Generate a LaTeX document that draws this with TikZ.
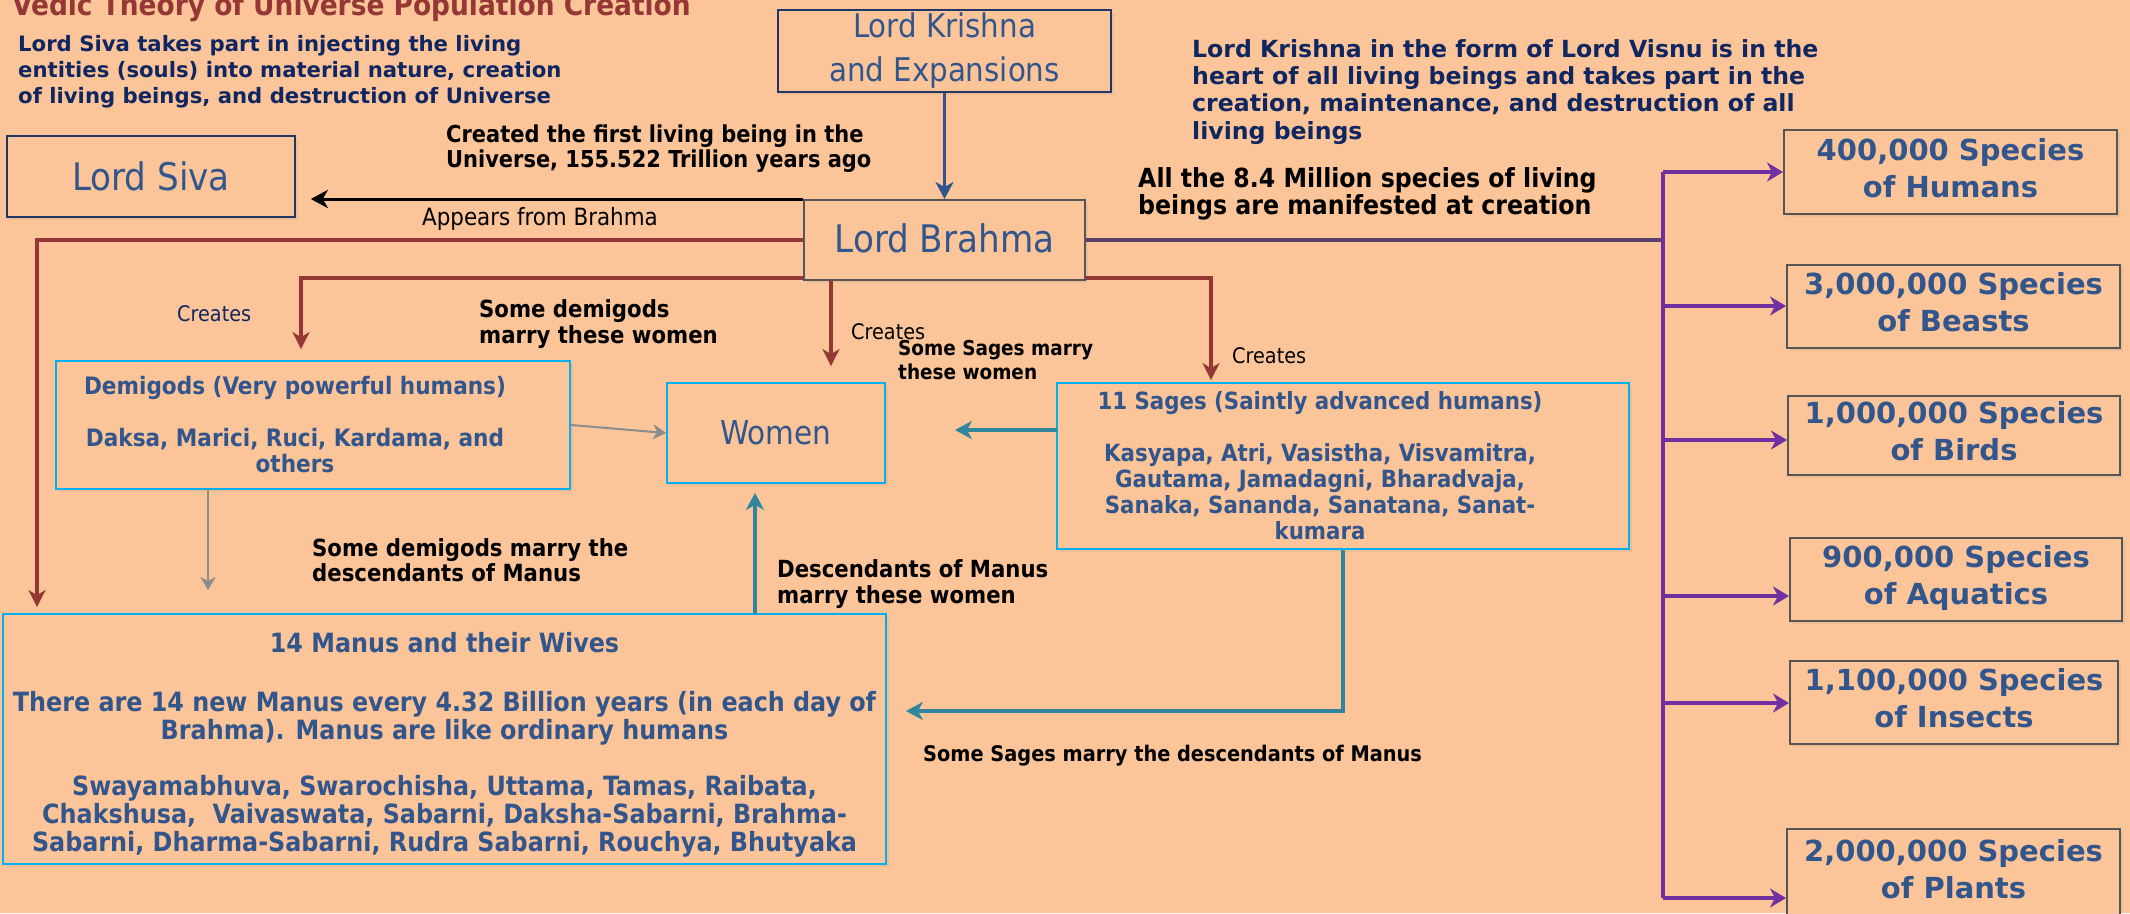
\documentclass[tikz,border=0pt]{standalone}
\usepackage{fontspec}
\setmainfont{DejaVu Sans}
\newfontfamily\tahoma{DejaVu Sans Condensed}
\usetikzlibrary{arrows.meta,shadows}
\definecolor{bg_peach}{RGB}{251, 197, 153}
\definecolor{txt_blue}{RGB}{50, 86, 140}
\definecolor{txt_navy}{RGB}{16, 38, 96}
\definecolor{ln_red}{RGB}{149, 55, 53}
\definecolor{ln_purple}{RGB}{112, 48, 160}
\definecolor{ln_plum}{RGB}{88, 66, 112}
\definecolor{ln_teal}{RGB}{49, 133, 156}
\definecolor{ln_gray}{RGB}{140, 140, 140}
\definecolor{ln_blue}{RGB}{47, 85, 140}
\definecolor{bx_cyan}{RGB}{0, 176, 240}
\definecolor{bx_navy}{RGB}{31, 56, 100}
\definecolor{bx_gray}{RGB}{85, 85, 85}
\tikzstyle{none}=[inner sep=0pt]
\tikzstyle{cb}=[rectangle,fill=bg_peach,draw=bx_cyan,line width=1.8pt,
  inner sep=0pt,align=center,text=txt_blue,
  drop shadow={shadow xshift=3pt,shadow yshift=-3pt,opacity=0.12}]
\tikzstyle{nb}=[cb,draw=bx_navy,line width=1.6pt]
\tikzstyle{gb}=[cb,draw=bx_gray,line width=2pt]
\tikzstyle{sp}=[gb,font=\bfseries\fontsize{29}{37}\selectfont,text depth=9pt,
  minimum width=332pt,minimum height=83pt]
\tikzstyle{btxt}=[inner sep=0pt,align=center,text=txt_blue,
  font=\tahoma\bfseries\fontsize{24}{26}\selectfont]
\tikzstyle{lbl}=[inner sep=0pt,anchor=base west,align=left,
  font=\tahoma\bfseries\fontsize{23.6}{26}\selectfont]
\tikzstyle{ra}=[draw=ln_red,line width=3.5pt,
  -{Stealth[length=17pt,width=17pt,inset=5pt]}]
\tikzstyle{pa}=[draw=ln_purple,line width=3.2pt,
  -{Stealth[length=16pt,width=19pt,inset=5pt]}]
\tikzstyle{pl}=[draw=ln_purple,line width=3.5pt]
\tikzstyle{ta}=[draw=ln_teal,line width=3.5pt,
  -{Stealth[length=17pt,width=18pt,inset=5pt]}]
\tikzstyle{ga}=[draw=ln_gray,line width=2pt,
  -{Stealth[length=13pt,width=15pt,inset=4pt]}]
\tikzstyle{ba}=[draw=black,line width=3pt,
  -{Stealth[length=17pt,width=18pt,inset=5pt]}]
\tikzstyle{bla}=[draw=ln_blue,line width=3pt,
  -{Stealth[length=17pt,width=18pt,inset=5pt]}]

\begin{document}
\begin{tikzpicture}[x=1pt, y=-1pt, line join=miter]
            \path [use as bounding box, fill=bg_peach] (0, 0) rectangle (2130, 913);
            % boxes
            \node [style=nb, minimum width=333pt, minimum height=82pt,
              font=\tahoma\fontsize{32.6}{44}\selectfont] (1) at (944.5, 51) {Lord Krishna\\and Expansions};
            \node [style=gb, minimum width=281pt, minimum height=80pt, text depth=4pt,
              font=\tahoma\fontsize{38}{44}\selectfont] (2) at (944.5, 240) {Lord Brahma};
            \node [style=nb, minimum width=288pt, minimum height=81pt,
              font=\tahoma\fontsize{38}{44}\selectfont] (3) at (151, 176.5) {Lord Siva};
            \node [style=cb, minimum width=514pt, minimum height=128pt] (4) at (313, 425) {};
            \node [style=btxt] (44) at ([xshift=-18pt]4.center)
              {Demigods (Very powerful humans)\\[26pt]Daksa, Marici, Ruci, Kardama, and\\others};
            \node [style=cb, minimum width=218pt, minimum height=100pt,
              font=\tahoma\fontsize{32.8}{40}\selectfont] (5) at (776, 433) {Women};
            \node [style=cb, minimum width=572pt, minimum height=166pt] (6) at (1343, 466) {};
            \node [style=btxt, font=\tahoma\bfseries\fontsize{23.7}{26}\selectfont] (45) at ([xshift=-23pt]6.center)
              {11 Sages (Saintly advanced humans)\\[26pt]Kasyapa, Atri, Vasistha, Visvamitra,\\
               Gautama, Jamadagni, Bharadvaja,\\Sanaka, Sananda, Sanatana, Sanat-\\kumara};
            \node [style=cb, minimum width=883pt, minimum height=250pt,
              font=\tahoma\bfseries\fontsize{26.5}{28}\selectfont] (7) at (444.5, 739)
              {\rule{0pt}{32pt}14 Manus and their Wives\\[31pt]
               There are 14 new Manus every 4.32 Billion years (in each day of\\
               Brahma). Manus are like ordinary humans\\[28pt]
               Swayamabhuva, Swarochisha, Uttama, Tamas, Raibata,\\
               Chakshusa,~ Vaivaswata, Sabarni, Daksha-Sabarni, Brahma-\\
               Sabarni, Dharma-Sabarni, Rudra Sabarni, Rouchya, Bhutyaka};
            \node [style=sp, minimum width=333pt, minimum height=84pt] (8) at (1950.5, 172) {400,000 Species\\of Humans};
            \node [style=sp, minimum width=333pt] (9) at (1953.5, 306.5) {3,000,000 Species\\of Beasts};
            \node [style=sp, minimum height=79pt] (10) at (1954, 435.5) {1,000,000 Species\\of Birds};
            \node [style=sp] (11) at (1956, 579.5) {900,000 Species\\of Aquatics};
            \node [style=sp, minimum width=328pt] (12) at (1954, 702.5) {1,100,000 Species\\of Insects};
            \node [style=sp, minimum width=333pt, minimum height=88pt] (13) at (1953.5, 873) {2,000,000 Species\\of Plants};
            % texts (base = last line)
            \node [style=lbl, text=ln_red, font=\tahoma\bfseries\fontsize{29.4}{32}\selectfont] (0) at (12, 15)
              {Vedic Theory of Universe Population Creation};
            \node [style=lbl, text=txt_navy, font=\bfseries\fontsize{21.2}{26}\selectfont] (14) at (18, 103)
              {Lord Siva takes part in injecting the living\\entities (souls) into material nature, creation\\of living beings, and destruction of Universe};
            \node [style=lbl, text=txt_navy, font=\bfseries\fontsize{23.6}{27.3}\selectfont] (15) at (1192, 139)
              {Lord Krishna in the form of Lord Visnu is in the\\heart of all living beings and takes part in the\\creation, maintenance, and destruction of all\\living beings};
            \node [style=lbl, font=\tahoma\bfseries\fontsize{23.3}{25}\selectfont] (16) at (446, 167)
              {Created the first living being in the\\Universe, 155.522 Trillion years ago};
            \node [style=lbl, font=\tahoma\fontsize{23.8}{26}\selectfont] (17) at (422, 225) {Appears from Brahma};
            \node [style=lbl, font=\tahoma\bfseries\fontsize{26.3}{26.5}\selectfont] (18) at (1138, 214)
              {All the 8.4 Million species of living\\beings are manifested at creation};
            \node [style=lbl, text=txt_navy, font=\tahoma\fontsize{21.4}{26}\selectfont] (19) at (177, 321) {Creates};
            \node [style=lbl, font=\tahoma\fontsize{21.4}{26}\selectfont] (20) at (851, 339) {Creates};
            \node [style=lbl, font=\tahoma\fontsize{21.4}{26}\selectfont] (21) at (1232, 363) {Creates};
            \node [style=lbl] (22) at (479, 343) {Some demigods\\marry these women};
            \node [style=lbl, font=\tahoma\bfseries\fontsize{20.5}{24}\selectfont] (23) at (898, 379)
              {Some Sages marry\\these women};
            \node [style=lbl, font=\tahoma\bfseries\fontsize{23.6}{25}\selectfont] (24) at (312, 581)
              {Some demigods marry the\\descendants of Manus};
            \node [style=lbl] (25) at (777, 603) {Descendants of Manus\\marry these women};
            \node [style=lbl, font=\tahoma\bfseries\fontsize{21.5}{25}\selectfont] (26) at (923, 761)
              {Some Sages marry the descendants of Manus};
            % bends and free ends
            \node [style=none] (30) at (37, 240) {};
            \node [style=none] (31) at (301, 278) {};
            \node [style=none] (32) at (1211, 278) {};
            \node [style=none] (33) at (831, 280) {};
            \node [style=none] (34) at (1663, 240) {};
            \node [style=none] (35) at (1663, 172) {};
            \node [style=none] (36) at (1663, 898) {};
            \node [style=none] (37) at (1057, 430) {};
            \node [style=none] (38) at (755, 614) {};
            \node [style=none] (39) at (1343, 711) {};
            \node [style=none] (40) at (1663, 306) {};
            \node [style=none] (41) at (1663, 440) {};
            \node [style=none] (42) at (1663, 596) {};
            \node [style=none] (43) at (1663, 703) {};
            \node [style=none] (46) at (208, 489) {};
            % connectors
            \draw [style=bla] (1) to (2);
            \draw [style=ba, shorten >=15pt] (2.north west) to (2.north west -| 3.east);
            \draw [style=ra, shorten >=6pt] (2.west) to (30.center) to (30.center |- 7.north);
            \draw [style=ra, shorten >=11pt] (2.west |- 31.center) to (31.center) to (31.center |- 4.north);
            \draw [style=ra, shorten >=16pt] (33.center) to (33.center |- 5.north);
            \draw [style=ra, shorten >=2pt] (2.east |- 32.center) to (32.center) to (32.center |- 6.north);
            \draw [style=ga] (4.east) to (5.west);
            \draw [style=ga, shorten >=23pt] (46.center) to (46.center |- 7.north);
            \draw [style=ta, shorten >=69pt] (37.center) to (37.center -| 5.east);
            \draw [style=ta, shorten >=9pt] (38.center) to (38.center |- 5.south);
            \draw [style=ta, shorten >=19pt] (6.south) to (39.center) to (39.center -| 7.east);
            \draw [draw=ln_plum, line width=3.5pt] (2.east) to (34.center);
            \draw [style=pl] (35.center) to (36.center);
            \draw [style=pa] (35.center) to (8.west);
            \draw [style=pa] (40.center) to (40.center -| 9.west);
            \draw [style=pa] (41.center) to (41.center -| 10.west);
            \draw [style=pa] (42.center) to (42.center -| 11.west);
            \draw [style=pa] (43.center) to (43.center -| 12.west);
            \draw [style=pa] (36.center) to (36.center -| 13.west);
    \end{tikzpicture}
\end{document}
